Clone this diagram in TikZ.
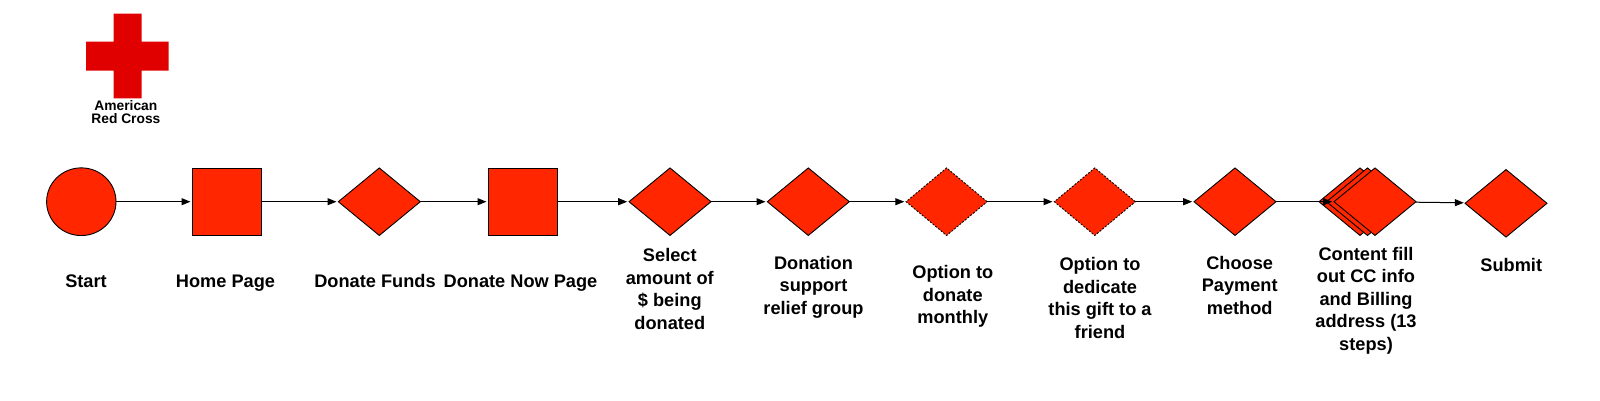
\documentclass[tikz,border=0pt]{standalone}
\usepackage{fontspec}
\usepackage{xcolor}
\usetikzlibrary{arrows.meta,shapes.geometric}
\setmainfont{Liberation Sans}
\definecolor{flowRed}{RGB}{255,38,0}
\definecolor{logoRed}{RGB}{224,0,0}
\tikzset{
  flowshape/.style={draw=black, fill=flowRed, line width=0.9pt, inner sep=0pt, outer sep=0pt},
  flowsquare/.style={flowshape, rectangle, minimum width=69.4pt, minimum height=67.4pt},
  flowdiamond/.style={flowshape, diamond, minimum width=82pt, minimum height=67.5pt},
  flowdashed/.style={flowdiamond, minimum width=81pt, dash pattern=on 2pt off 1.5pt},
  flowarrow/.style={line width=1pt, shorten >=1.8pt, -{Triangle[length=9pt,width=7pt]}},
  flowlabel/.style={align=center, anchor=base, font=\bfseries\fontsize{18.2}{22.4}\selectfont, inner sep=0pt}
}
\begin{document}
\begin{tikzpicture}[x=1pt,y=-1pt]
\useasboundingbox (0,0) rectangle (1600,400);
% logo
\fill[logoRed] (113.5,13.5)--(141.5,13.5)--(141.5,41.5)--(168.5,41.5)--(168.5,70.5)--(141.5,70.5)
  --(141.5,98.3)--(113.5,98.3)--(113.5,70.5)--(86,70.5)--(86,41.5)--(113.5,41.5)--cycle;
\node[align=center, anchor=base, inner sep=0pt, font=\bfseries\fontsize{13.8}{13.2}\selectfont] (logotext) at (125.9,123.4) {American\\Red Cross};

% flow shapes
\node[flowshape, ellipse, minimum width=69.4pt, minimum height=67.7pt] (start) at (81.3,201.7) {};
\node[flowsquare] (home) at (227,201.7) {};
\node[flowsquare] (nowpage) at (523,201.7) {};
\foreach \n/\x in {funds/379.3,amount/670,relief/808.3,payment/1235,stackc/1360,stackb/1367.5,stacka/1375}{
  \node[flowdiamond] (\n) at (\x,201.7) {};
}
\foreach \n/\x in {monthly/946.6,dedicate/1094.8}{
  \node[flowdashed] (\n) at (\x,201.7) {};
}
\node[flowdiamond] (submit) at (1506,203.3) {};

\foreach \a/\b in {start/home,home/funds,funds/nowpage,nowpage/amount,amount/relief,relief/monthly,monthly/dedicate,dedicate/payment,payment/stacka,stacka/submit}{
  \draw[flowarrow] (\a)--(\b);
}

% labels, placed at the baseline of the last line
\node[flowlabel] (startlabel) at (86,287.5) {Start};
\node[flowlabel] (homelabel) at (225.5,287.5) {Home Page};
\node[flowlabel] (fundslabel) at (375,287.5) {Donate Funds};
\node[flowlabel] (nowlabel) at (520.5,287.5) {Donate Now Page};
\node[flowlabel] (amountlabel) at (669.8,329) {Select\\amount of\\\$ being\\donated};
\node[flowlabel] (relieflabel) at (813.5,314) {Donation\\support\\relief group};
\node[flowlabel] (monthlylabel) at (952.8,323.4) {Option to\\donate\\monthly};
\node[flowlabel] (dedicatelabel) at (1100,338) {Option to\\dedicate\\this gift to a\\friend};
\node[flowlabel] (paymentlabel) at (1239.7,314.3) {Choose\\Payment\\method};
\node[flowlabel] (stacklabel) at (1366,350) {Content fill\\out CC info\\and Billing\\address (13\\steps)};
\node[flowlabel] (submitlabel) at (1511.2,271.5) {Submit};
\end{tikzpicture}
\end{document}
